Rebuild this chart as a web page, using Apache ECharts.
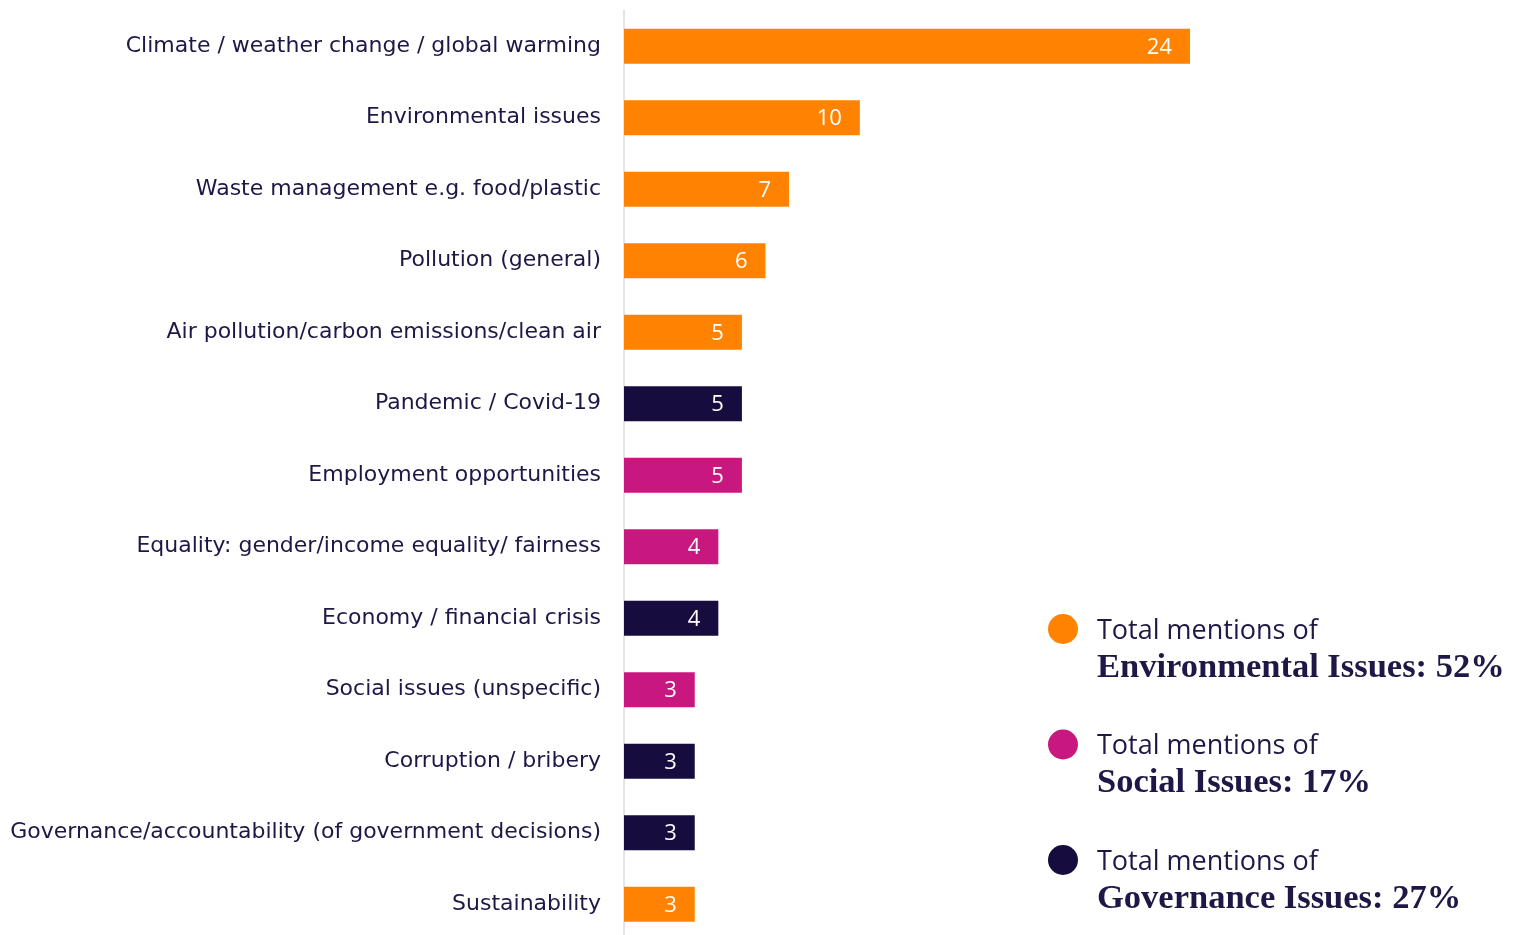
<!DOCTYPE html>
<html>
<head>
<meta charset="utf-8">
<title>Issues mentioned</title>
<script src="https://cdn.jsdelivr.net/npm/echarts@6/dist/echarts.min.js"></script>
<style>
  html, body { margin: 0; padding: 0; background: #ffffff; overflow: hidden; }
  #chart { width: 1519px; height: 940px; }
</style>
</head>
<body>
<div id="chart"></div>
<script>
// Issues, in the order they are listed (top to bottom)
const categories = [
  'Climate / weather change / global warming',
  'Environmental issues',
  'Waste management e.g. food/plastic',
  'Pollution (general)',
  'Air pollution/carbon emissions/clean air',
  'Pandemic / Covid-19',
  'Employment opportunities',
  'Equality: gender/income equality/ fairness',
  'Economy / financial crisis',
  'Social issues (unspecific)',
  'Corruption / bribery',
  'Governance/accountability (of government decisions)',
  'Sustainability'
];
// Number of mentions per issue
const mentions = [24, 10, 7, 6, 5, 5, 5, 4, 4, 3, 3, 3, 3];
// ESG group of each issue
const groups = ['env', 'env', 'env', 'env', 'env', 'gov', 'soc', 'soc', 'gov', 'soc', 'gov', 'gov', 'env'];

// Group key, title and share of all mentions
const groupKeys = ['env', 'soc', 'gov'];
const groupNames = ['Environmental Issues', 'Social Issues', 'Governance Issues'];
const groupShares = [52, 17, 27];

const groupColors = { env: '#FF8300', soc: '#C8187F', gov: '#170C3E' };
const textColor = '#1F1746';

const chart = echarts.init(document.getElementById('chart'), null, { renderer: 'canvas' });

// Key on the right: one dot plus two lines of text per group
const keyGraphics = [];
const keyTop = 629, keyStep = 115.5;
groupKeys.forEach(function (k, i) {
  const cy = keyTop + i * keyStep;
  keyGraphics.push({
    type: 'circle',
    shape: { cx: 1063, cy: cy, r: 15 },
    style: { fill: groupColors[k] }
  });
  keyGraphics.push({
    type: 'text',
    x: 1097, y: cy + 2,
    style: {
      text: 'Total mentions of',
      fill: textColor,
      font: '27px "Open Sans"',
      verticalAlign: 'middle',
      align: 'left'
    }
  });
  keyGraphics.push({
    type: 'text',
    x: 1097, y: cy + 39,
    style: {
      text: groupNames[i] + ': ' + groupShares[i] + '%',
      fill: textColor,
      font: 'bold 34.5px "Liberation Serif"',
      verticalAlign: 'middle',
      align: 'left'
    }
  });
});

chart.setOption({
  backgroundColor: '#ffffff',
  animation: false,
  grid: { left: 624, right: 187.5, top: 10.5, bottom: 0, containLabel: false },
  xAxis: {
    type: 'value',
    min: 0,
    max: 30,
    show: false
  },
  yAxis: {
    type: 'category',
    data: categories,
    inverse: true,
    axisLine: { show: true, lineStyle: { color: '#DADADA', width: 1.5 } },
    axisTick: { show: false },
    axisLabel: {
      color: textColor,
      fontFamily: 'DejaVu Sans',
      fontSize: 22,
      margin: 23,
      padding: [3, 0, 0, 0]
    },
    splitLine: { show: false }
  },
  series: [{
    type: 'bar',
    barWidth: 35,
    data: mentions.map(function (v, i) {
      return { value: v, itemStyle: { color: groupColors[groups[i]] } };
    }),
    label: {
      show: true,
      position: 'insideRight',
      distance: 18,
      color: '#ffffff',
      fontFamily: 'Open Sans',
      fontSize: 22,
      offset: [0, 1]
    }
  }],
  graphic: keyGraphics
});
</script>
</body>
</html>
